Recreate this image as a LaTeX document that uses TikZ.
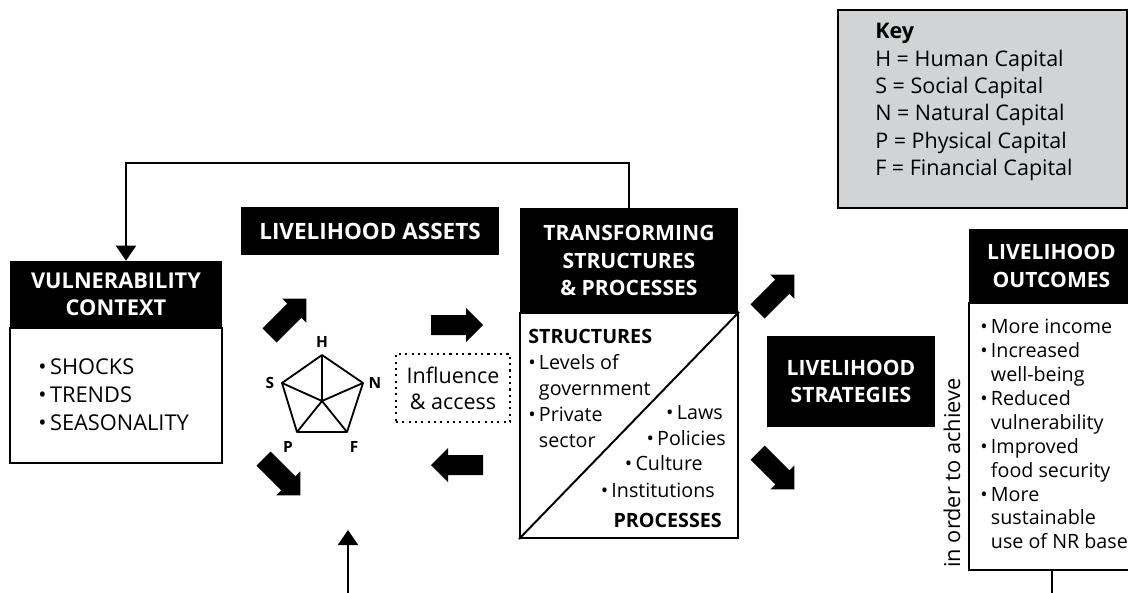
\documentclass[tikz,border=0pt]{standalone}
\usepackage{fontspec}
\setmainfont{Open Sans}
\usepackage{xcolor}
\usepackage{tikz}
\usetikzlibrary{arrows.meta}
\definecolor{keygray}{HTML}{D1D3D4}
\newcommand{\hdrfont}{\fontsize{15}{19.5}\selectfont\bfseries}
\newcommand{\txtfont}{\fontsize{14}{17}\selectfont}
\newcommand{\bul}{\textbullet\,}
\newcommand{\ind}{\phantom{\textbullet\,}}
\tikzset{
  hdr/.style={fill=black, text=white, font=\hdrfont, align=center, inner sep=0pt},
  frame/.style={draw=black, fill=white, line width=1.4pt, inner sep=0pt},
  txt/.style={font=\txtfont, align=left, inner sep=0pt},
  link/.style={draw=black, line width=1.4pt},
  tip/.style={-{Triangle[length=0.375cm,width=0.5cm]}},
  corner/.style={font=\fontsize{11}{13}\selectfont\bfseries, inner sep=0pt},
  fatarrow/.pic={\fill (-26,-10) -- (9,-10) -- (9,-17) -- (26,0) -- (9,17) -- (9,10) -- (-26,10) -- cycle;}
}
\begin{document}
\begin{tikzpicture}[x=0.025cm,y=-0.025cm]
  \useasboundingbox (0,0) rectangle (1128,592);
  \clip (0,0) rectangle (1128,592);

  % key
  \node[frame, fill=keygray, minimum width=7.225cm, minimum height=4.95cm] (key) at (982.5,109) {};
  \node[txt, anchor=north west, font=\fontsize{15.3}{19.5}\selectfont] (keytx) at (875,23)
    {\textbf{Key}\\H = Human Capital\\S = Social Capital\\N = Natural Capital\\P = Physical Capital\\F = Financial Capital};

  % vulnerability context
  \node[frame, minimum width=5.3cm, minimum height=3.375cm] (vulbd) at (116,395.5) {};
  \node[hdr, minimum width=5.3cm, minimum height=1.675cm, font=\fontsize{15.5}{19.5}\selectfont\bfseries] (vulhd) at (116,294.5) {VULNERABILITY\\CONTEXT};
  \node[txt, anchor=west, font=\fontsize{15.5}{20}\selectfont] (vultx) at (38,395) {\bul SHOCKS\\\bul TRENDS\\\bul SEASONALITY};

  % assets pentagon
  \node[hdr, minimum width=6.45cm, minimum height=1.2cm, font=\fontsize{16}{19.5}\selectfont\bfseries] (asshd) at (370,231) {LIVELIHOOD ASSETS};
  \coordinate (H) at (322,355);
  \coordinate (N) at (363,383);
  \coordinate (F) at (347,432);
  \coordinate (P) at (297,432);
  \coordinate (S) at (282,383);
  \coordinate (O) at (322,401);
  \draw[line width=1.3pt, line join=round] (H) -- (N) -- (F) -- (P) -- (S) -- cycle;
  \foreach \v in {H,N,F,P,S} \draw[line width=1.3pt] (O) -- (\v);
  \node[corner] (lH) at (322,342) {H};
  \node[corner] (lN) at (375,383) {N};
  \node[corner] (lF) at (354,447) {F};
  \node[corner] (lP) at (288,447) {P};
  \node[corner] (lS) at (270,383) {S};
  \node[draw, dash pattern=on 1.5pt off 3pt, line width=1.5pt, minimum width=2.85cm, minimum height=1.7cm,
        font=\fontsize{15.3}{18.5}\selectfont, align=center, inner sep=0pt] (infl) at (453,388) {Influence\\\& access};

  % transforming structures
  \node[frame, minimum width=5.45cm, minimum height=5.625cm] (trbd) at (629,425.5) {};
  \node[hdr, minimum width=5.45cm, minimum height=2.625cm] (trhd) at (629,260.5) {TRANSFORMING\\STRUCTURES\\\& PROCESSES};
  \draw[link] (trbd.south west) -- (trbd.north east);
  \node[txt, anchor=north west, font=\fontsize{14}{18.5}\selectfont] (strtx) at (528,329)
    {\textbf{STRUCTURES}\\\bul Levels of\\\ind government\\\bul Private\\\ind sector};
  \node[txt, anchor=east] (laws) at (723,413) {\bul Laws};
  \node[txt, anchor=east] (polc) at (726,438) {\bul Policies};
  \node[txt, anchor=east] (cult) at (703,463) {\bul Culture};
  \node[txt, anchor=east] (inst) at (715,490) {\bul Institutions};
  \node[txt, anchor=east, font=\fontsize{14}{17}\selectfont\bfseries] (proc) at (722,520) {PROCESSES};

  % strategies and outcomes
  \node[hdr, minimum width=4.2cm, minimum height=2.275cm] (strat) at (851,381.5) {LIVELIHOOD\\STRATEGIES};
  \node[frame, minimum width=4.125cm, minimum height=6.675cm] (outbd) at (1051.5,436.5) {};
  \node[hdr, minimum width=4.125cm, minimum height=1.85cm] (outhd) at (1051.5,266) {LIVELIHOOD\\OUTCOMES};
  \node[txt, anchor=north west] (outtx) at (980,319)
    {\bul More income\\\bul Increased\\\ind well-being\\\bul Reduced\\\ind vulnerability\\\bul Improved\\\ind food security\\\bul More\\\ind sustainable\\\ind use of NR base};
  \node[txt, rotate=90, font=\fontsize{15.5}{17}\selectfont] (achv) at (952,473) {in order to achieve};

  % block arrows
  \pic[rotate=45] at (288,317) {fatarrow};
  \pic[rotate=-45] at (282,477) {fatarrow};
  \pic at (457,325) {fatarrow};
  \pic[rotate=180] at (457,465) {fatarrow};
  \pic[rotate=45] at (776,293) {fatarrow};
  \pic[rotate=-45] at (776,471) {fatarrow};

  % feedback lines
  \coordinate (fbk) at (126,163);
  \draw[link, tip] (trhd.north) |- (fbk) -- (fbk |- vulhd.north);
  \coordinate (assin) at (348,600);
  \coordinate (asstip) at (348,530);
  \draw[link, tip] (assin) -- (asstip);
  \draw[link] (outbd.south) -- ++(0,40);
\end{tikzpicture}
\end{document}
